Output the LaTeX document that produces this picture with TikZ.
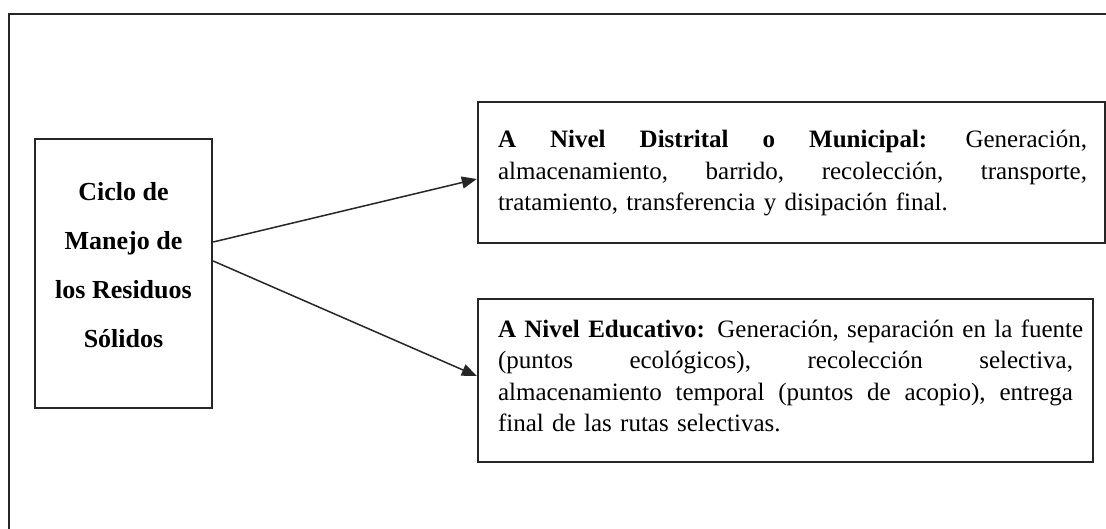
\documentclass[tikz,border=0pt]{standalone}
\usepackage{fontspec}
\setmainfont{Liberation Serif}
\usetikzlibrary{arrows.meta}
\newcommand{\jline}[1]{\leavevmode\hbox to \linewidth{#1}}
\begin{document}
\begin{tikzpicture}[x=1pt,y=-1pt,
  boxstyle/.style={draw=black!85, line width=2.4pt, inner sep=0pt},
  bodytxt/.style={font=\fontsize{25}{31.5}\selectfont, inner sep=0pt, align=left, text=black},
  titletxt/.style={font=\bfseries\fontsize{26}{49}\selectfont, inner sep=0pt, align=center, text=black},
  arr/.style={draw=black!85, line width=1.5pt, -{Triangle[length=15pt,width=12pt]}}]
\clip (0,0) rectangle (1106,529);
\fill[white] (0,0) rectangle (1106,529);
% outer frame (cut by the page at right and bottom)
\draw[line width=2pt, black!85] (9,560) -- (9,14) -- (1140,14);
% boxes
\node[boxstyle, minimum width=177pt, minimum height=269pt] (L) at (123.5,273.5) {};
\node[boxstyle, minimum width=627pt, minimum height=141pt] (T) at (791.5,172.5) {};
\node[boxstyle, minimum width=615pt, minimum height=163pt] (B) at (785.5,380.5) {};
% texts
\node[titletxt] (Ltxt) at ([yshift=8.5pt]L.center) {Ciclo de\\Manejo de\\los Residuos\\Sólidos};
\node[bodytxt, text width=589pt] (Ttxt) at (792.5,173.2) {%
\jline{\textbf{A} \hfill \textbf{Nivel} \hfill \textbf{Distrital} \hfill \textbf{o} \hfill \textbf{Municipal:} \hfill Generación,}\\
\jline{almacenamiento, \hfill barrido, \hfill recolección, \hfill transporte,}\\
tratamiento, transferencia y disipación final.};
\node[bodytxt, text width=575pt] (Btxt) at (785.5,376) {%
\jline{\textbf{A Nivel Educativo:} \hfill Generación, \hfill separación \hfill en \hfill la \hfill fuente}\\
\jline{(puntos \hfill ecológicos), \hfill recolección \hfill selectiva,}\\
\jline{almacenamiento \hfill temporal \hfill (puntos \hfill de \hfill acopio), \hfill entrega}\\
final de las rutas selectivas.};
% connectors
\draw[arr] ([yshift=31.5pt]L.east) -- ([yshift=-6.5pt]T.west);
\draw[arr] ([yshift=12.5pt]L.east) -- ([yshift=4.5pt]B.west);
\end{tikzpicture}
\end{document}
